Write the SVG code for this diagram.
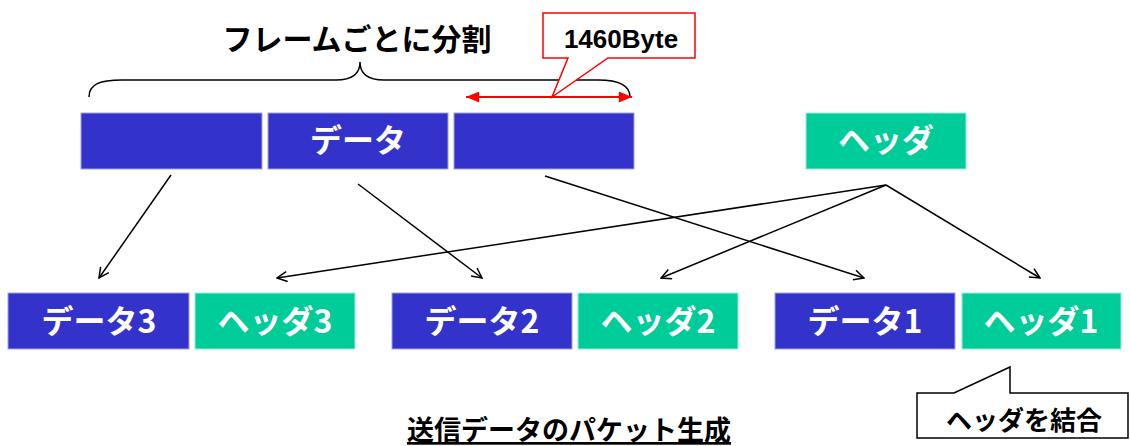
<svg xmlns="http://www.w3.org/2000/svg" width="1130" height="446" viewBox="0 0 1130 446">
<style>
.data{fill:#3333CC;stroke:#A0A0E8;stroke-width:1}
.hdr{fill:#00CC99;stroke:#99EED6;stroke-width:1}
.lbl{font-family:"Noto Sans CJK JP","Noto Sans",sans-serif;font-weight:bold;font-size:32px;fill:#fff;text-anchor:middle}
.blk{font-family:"Noto Sans CJK JP","Noto Sans",sans-serif;fill:#000}
.num{font-family:"Liberation Sans",Arial,sans-serif;fill:#000}
.conn{stroke:#000;stroke-width:1.5;fill:none;marker-end:url(#open)}
</style>
<defs>
<marker id="open" viewBox="0 0 12 12" refX="11" refY="6" markerWidth="12" markerHeight="12" markerUnits="userSpaceOnUse" orient="auto">
<path d="M1,1 L11,6 L1,11" fill="none" stroke="#000" stroke-width="1.5"/>
</marker>
<marker id="red" viewBox="0 0 12 10" refX="12" refY="5" markerWidth="14" markerHeight="11" markerUnits="userSpaceOnUse" orient="auto-start-reverse">
<path d="M0,0 L12,5 L0,10 Z" fill="#FF0000"/>
</marker>
</defs>
<rect width="1130" height="446" fill="#fff"/>

<g id="title">
<text class="blk" x="357" y="50" font-size="30" text-anchor="middle" font-weight="bold">フレームごとに分割</text>
</g>
<g id="brace">
<path d="M89,97 C89,84 100,80 122,80 L336,80 C352,80 360,74 360,62 C360,74 368,80 384,80 L598,80 C620,80 630,86 630,97" fill="none" stroke="#000" stroke-width="1.5"/>
</g>
<g id="size-arrow">
<line x1="466" y1="97" x2="632" y2="97" stroke="#FF0000" stroke-width="2" marker-start="url(#red)" marker-end="url(#red)"/>
</g>
<g id="callout-size">
<path d="M543,13 L695,13 L695,58 L608,58 L552,97 L568,58 L543,58 Z" fill="#fff" stroke="#FF0000" stroke-width="1.5"/>
<text class="num" x="621" y="48" font-size="26" text-anchor="middle" font-weight="bold">1460Byte</text>
</g>

<g id="src-data-1"><rect class="data" x="81" y="113" width="181" height="56"/></g>
<g id="src-data-2"><rect class="data" x="268" y="113" width="180" height="56"/><text class="lbl" x="358" y="152">データ</text></g>
<g id="src-data-3"><rect class="data" x="454" y="113" width="180" height="56"/></g>
<g id="src-header"><rect class="hdr" x="806" y="113" width="160" height="56"/><text class="lbl" x="886" y="152">ヘッダ</text></g>

<g id="data3"><rect class="data" x="8" y="293" width="181" height="56"/><text class="lbl" x="99" y="333">データ3</text></g>
<g id="header3"><rect class="hdr" x="195" y="293" width="160" height="56"/><text class="lbl" x="275" y="333">ヘッダ3</text></g>
<g id="data2"><rect class="data" x="392" y="293" width="180" height="56"/><text class="lbl" x="482" y="333">データ2</text></g>
<g id="header2"><rect class="hdr" x="578" y="293" width="160" height="56"/><text class="lbl" x="658" y="333">ヘッダ2</text></g>
<g id="data1"><rect class="data" x="775" y="293" width="180" height="56"/><text class="lbl" x="865" y="333">データ1</text></g>
<g id="header1"><rect class="hdr" x="962" y="293" width="159" height="56"/><text class="lbl" x="1041" y="333">ヘッダ1</text></g>

<g id="connectors">
<line class="conn" x1="171" y1="175" x2="99" y2="278"/>
<line class="conn" x1="358" y1="184" x2="482" y2="278"/>
<line class="conn" x1="545" y1="176" x2="864" y2="278"/>
<line class="conn" x1="886" y1="185" x2="277" y2="278"/>
<line class="conn" x1="886" y1="185" x2="661" y2="278"/>
<line class="conn" x1="886" y1="185" x2="1040" y2="278"/>
</g>

<g id="callout-join">
<path d="M917,393 L954,393 L1010,367 L1010,393 L1128,393 L1128,438 L917,438 Z" fill="#fff" stroke="#000" stroke-width="1.5"/>
<text class="blk" x="1024" y="430" font-size="26" text-anchor="middle" font-weight="bold">ヘッダを結合</text>
</g>

<g id="caption">
<text class="blk" x="569" y="440" font-size="27" text-anchor="middle" font-weight="bold" text-decoration="underline">送信データのパケット生成</text>
</g>
</svg>
